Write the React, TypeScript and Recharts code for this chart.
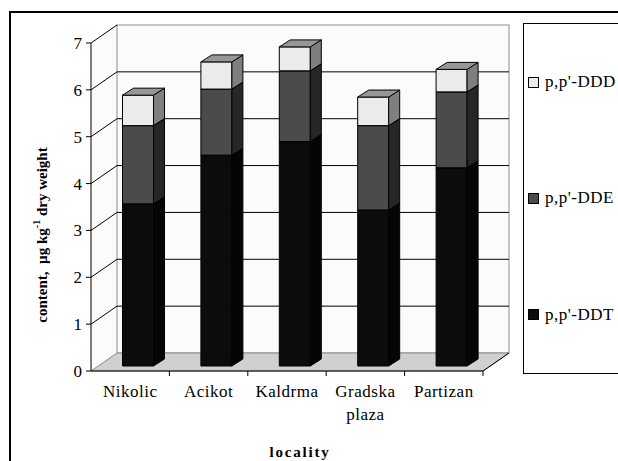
import React from 'react';
import { BarChart, Bar, XAxis, YAxis, ReferenceArea, Legend, Label } from 'recharts';

const LOCALITIES = ['Nikolic', 'Acikot', 'Kaldrma', 'Gradska plaza', 'Partizan'];
const DDT = [3.46, 4.5, 4.79, 3.33, 4.23];
const DDE = [1.67, 1.41, 1.51, 1.8, 1.62];
const DDD = [0.65, 0.58, 0.51, 0.61, 0.48];
const Y_TICKS = [0, 1, 2, 3, 4, 5, 6, 7];

const SERIES = [
  { key: 'ddt', name: "p,p'-DDT", front: '#0c0c0c', side: '#050505', top: '#1c1c1c' },
  { key: 'dde', name: "p,p'-DDE", front: '#4b4b4b', side: '#262626', top: '#6a6a6a' },
  { key: 'ddd', name: "p,p'-DDD", front: '#ebebeb', side: '#7f7f7f', top: '#979797' },
];

const data = LOCALITIES.map((name, i) => ({ name, ddt: DDT[i], dde: DDE[i], ddd: DDD[i] }));

const FONT = "'Liberation Serif', 'Times New Roman', 'DejaVu Serif', serif";

// fake 3d: back wall offset, bar shift into the depth and bar depth
const WALL = { dx: 26, dy: -18 };
const BAR_SHIFT = { dx: 7.5, dy: -5 };
const BAR_DEPTH = { dx: 11, dy: -7 };

const pts = (arr: number[][]) => arr.map((p) => p.join(',')).join(' ');

function boxShape(c: { front: string; side: string; top: string }) {
  return (props: any) => {
    const { x, y, width, height } = props;
    if (!height) return <g />;
    const x0 = x + BAR_SHIFT.dx;
    const y0 = y + BAR_SHIFT.dy;
    const { dx, dy } = BAR_DEPTH;
    return (
      <g stroke="#000" strokeWidth={1} strokeLinejoin="round">
        <rect x={x0} y={y0} width={width} height={height} fill={c.front} />
        <polygon points={pts([[x0 + width, y0], [x0 + width + dx, y0 + dy], [x0 + width + dx, y0 + height + dy], [x0 + width, y0 + height]])} fill={c.side} />
        <polygon points={pts([[x0, y0], [x0 + dx, y0 + dy], [x0 + width + dx, y0 + dy], [x0 + width, y0]])} fill={c.top} />
      </g>
    );
  };
}

function Backdrop(props: any) {
  const { x, y, width, height } = props;
  const { dx, dy } = WALL;
  const max = Y_TICKS[Y_TICKS.length - 1];
  const bottom = y + height;
  const yOf = (v: number) => bottom - (v / max) * height;
  const band = width / LOCALITIES.length;
  return (
    <g>
      <polygon points={pts([[x, y], [x + dx, y + dy], [x + dx, bottom + dy], [x, bottom]])} fill="#fbfbfb" />
      <rect x={x + dx} y={y + dy} width={width} height={height} fill="#fbfbfb" stroke="#8c8c8c" />
      <polygon points={pts([[x, bottom], [x + width, bottom], [x + width + dx, bottom + dy], [x + dx, bottom + dy]])} fill="#d0d0d0" stroke="#8c8c8c" />
      <line x1={x + width} y1={bottom} x2={x + width + dx} y2={bottom + dy} stroke="#000" />
      {Y_TICKS.filter((v) => v > 0).map((v) => (
        <g key={v} stroke="#000">
          <line x1={x} y1={yOf(v)} x2={x + dx} y2={yOf(v) + dy} />
          {v < max && <line x1={x + dx} y1={yOf(v) + dy} x2={x + dx + width} y2={yOf(v) + dy} />}
        </g>
      ))}
      {LOCALITIES.map((_, i) => (
        <line key={i} x1={x + band * (i + 1)} y1={bottom} x2={x + band * (i + 1)} y2={bottom + 5} stroke="#000" />
      ))}
    </g>
  );
}

function CatTick(props: any) {
  const { x, y, payload } = props;
  const lines = String(payload.value).split(' ');
  return (
    <text x={x} y={y} textAnchor="middle" fontSize={17} fill="#000" letterSpacing={0.5} style={{ fontFamily: FONT }}>
      {lines.map((l, i) => (
        <tspan key={i} x={x} dy={i === 0 ? '1.05em' : '1.35em'}>{l}</tspan>
      ))}
    </text>
  );
}

function YLabel(props: any) {
  const { viewBox } = props;
  const cx = viewBox.x + 11;
  const cy = viewBox.y + viewBox.height / 2 + 28;
  return (
    <text x={cx} y={cy} transform={`rotate(-90 ${cx} ${cy})`} textAnchor="middle" dominantBaseline="central"
      fontWeight="bold" fontSize={15} fill="#000" style={{ fontFamily: FONT }}>
      {'content,\u00a0 µg kg'}<tspan baselineShift="super" fontSize={10}>-1</tspan>{' dry weight'}
    </text>
  );
}

function XLabel(props: any) {
  const { viewBox } = props;
  const cx = viewBox.x + viewBox.width / 2 + 13;
  return (
    <text x={cx} y={viewBox.y + viewBox.height + 56} textAnchor="middle" fontWeight="bold" fontSize={15}
      letterSpacing={1.8} fill="#000" style={{ fontFamily: FONT }}>
      locality
    </text>
  );
}

function LegendBox(props: any) {
  const byName = new Map((props.payload || []).map((p: any) => [p.value, p]));
  const items = [...SERIES].reverse().map((s) => byName.get(s.name) || { value: s.name, color: s.front });
  return (
    <div style={{ display: 'flex', flexDirection: 'column', justifyContent: 'space-around', height: '100%' }}>
      {items.map((p: any) => (
        <div key={p.value} style={{ display: 'flex', alignItems: 'center', fontSize: 17, lineHeight: '18px', letterSpacing: 0.5, color: '#000', fontFamily: FONT }}>
          <span style={{ width: 9, height: 9, border: '1px solid #000', background: p.color, marginRight: 6, flex: 'none' }} />
          {p.value}
        </div>
      ))}
    </div>
  );
}

export default function App() {
  return (
    <div style={{ position: 'absolute', left: 0, top: 0, width: 618, height: 461, background: '#fff', fontFamily: FONT, overflow: 'hidden' }}>
      <div style={{ position: 'absolute', left: 9, top: 11, width: 700, height: 600, borderTop: '2px solid #000', borderLeft: '2px solid #000' }} />
      <BarChart width={618} height={461} data={data} margin={{ top: 43, right: 39, left: 31, bottom: 60 }} barSize={31} style={{ fontFamily: FONT }}>
        <ReferenceArea x1={LOCALITIES[0]} x2={LOCALITIES[LOCALITIES.length - 1]} y1={0} y2={7} shape={Backdrop} ifOverflow="visible" />
        <XAxis dataKey="name" interval={0} tickLine={false} axisLine={{ stroke: '#000' }} height={30} tick={<CatTick />}>
          <Label content={<XLabel />} />
        </XAxis>
        <YAxis domain={[0, 7]} ticks={Y_TICKS} width={60} tickSize={5} tickMargin={4} axisLine={{ stroke: '#000' }}
          tickLine={{ stroke: '#000' }} tick={{ fontSize: 17, fill: '#000', style: { fontFamily: FONT } }}>
          <Label content={<YLabel />} />
        </YAxis>
        <Legend layout="vertical" align="right" verticalAlign="top" content={<LegendBox />}
          wrapperStyle={{ left: 523, top: 23, width: 96, height: 351, border: '1px solid #000', boxSizing: 'border-box', paddingLeft: 4, background: '#fff', fontFamily: FONT }} />
        {SERIES.map((s) => (
          <Bar key={s.key} dataKey={s.key} name={s.name} stackId="a" fill={s.front} shape={boxShape(s)} isAnimationActive={false} />
        ))}
      </BarChart>
    </div>
  );
}
